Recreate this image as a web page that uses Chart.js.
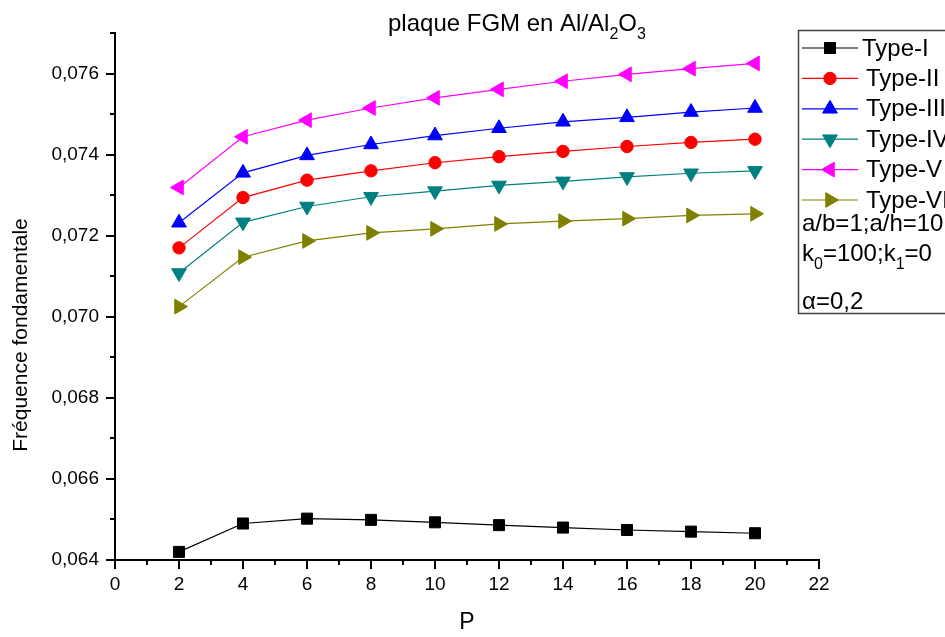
<!DOCTYPE html>
<html>
<head>
<meta charset="utf-8">
<title>plaque FGM en Al/Al2O3</title>
<script src="https://cdn.jsdelivr.net/npm/chart.js@4.4.0/dist/chart.umd.min.js"></script>
<style>
  html, body { margin: 0; padding: 0; background: #fff; }
  canvas { display: block; }
</style>
</head>
<body>
<canvas id="freqChart" width="945" height="637"></canvas>
<script>
// indice de loi de puissance P
const pValues = [2, 4, 6, 8, 10, 12, 14, 16, 18, 20];

// fréquence fondamentale adimensionnelle pour chaque type de plaque
const typeI   = [0.06420, 0.06490, 0.06502, 0.06499, 0.06493, 0.06486, 0.06480, 0.06474, 0.06470, 0.06466];
const typeII  = [0.07170, 0.07294, 0.07337, 0.07360, 0.07380, 0.07395, 0.07408, 0.07420, 0.07430, 0.07438];
const typeIII = [0.07232, 0.07355, 0.07398, 0.07425, 0.07447, 0.07465, 0.07481, 0.07492, 0.07505, 0.07515];
const typeIV  = [0.07108, 0.07233, 0.07272, 0.07296, 0.07310, 0.07324, 0.07334, 0.07345, 0.07354, 0.07360];
const typeV   = [0.07319, 0.07444, 0.07485, 0.07515, 0.07540, 0.07561, 0.07581, 0.07598, 0.07612, 0.07625];
const typeVI  = [0.07025, 0.07147, 0.07187, 0.07207, 0.07217, 0.07229, 0.07236, 0.07242, 0.07250, 0.07254];

const seriesNames = ['Type-I', 'Type-II', 'Type-III', 'Type-IV', 'Type-V', 'Type-VI'];

// graduations
const xTicks = [0, 2, 4, 6, 8, 10, 12, 14, 16, 18, 20, 22];
const xMinorTicks = [1, 3, 5, 7, 9, 11, 13, 15, 17, 19, 21];
const yTicks = [0.064, 0.066, 0.068, 0.070, 0.072, 0.074, 0.076];
const yMinorTicks = [0.065, 0.067, 0.069, 0.071, 0.073, 0.075, 0.077];

const FONT = 'Arial, "Liberation Sans", sans-serif';

function serie(label, values, color, style, radius, rotation) {
    return {
        label: label,
        data: pValues.map((p, i) => ({ x: p, y: values[i] })),
        borderColor: color,
        backgroundColor: color,
        borderWidth: 1.2,
        pointStyle: style,
        pointRadius: radius,
        pointHoverRadius: radius,
        pointRotation: rotation,
        pointBorderWidth: 1,
        pointBorderColor: color,
        pointBackgroundColor: color,
        tension: 0
    };
}

// texte avec indices (Al2O3, k0 ...)
function drawRich(ctx, parts, x, y, size) {
    ctx.textAlign = 'left';
    ctx.textBaseline = 'alphabetic';
    parts.forEach(([txt, sub]) => {
        ctx.font = (sub ? Math.round(size * 0.65) : size) + 'px ' + FONT;
        ctx.fillText(txt, x, sub ? y + size * 0.33 : y);
        x += ctx.measureText(txt).width;
    });
}

// ticks secondaires
const minorTicks = {
    id: 'minorTicks',
    afterDraw(chart) {
        const ctx = chart.ctx;
        const xs = chart.scales.x, ys = chart.scales.y;
        const area = chart.chartArea;
        ctx.save();
        ctx.strokeStyle = '#000';
        ctx.lineWidth = 2;
        ctx.beginPath();
        xMinorTicks.forEach(v => {
            const px = Math.round(xs.getPixelForValue(v));
            ctx.moveTo(px, area.bottom);
            ctx.lineTo(px, area.bottom + 5);
        });
        yMinorTicks.forEach(v => {
            const py = Math.round(ys.getPixelForValue(v));
            ctx.moveTo(area.left - 5, py);
            ctx.lineTo(area.left, py);
        });
        ctx.stroke();
        ctx.restore();
    }
};

// titre, titre de l'axe Y et légende
const annotations = {
    id: 'annotations',
    afterDraw(chart) {
        const ctx = chart.ctx;
        ctx.save();
        ctx.fillStyle = '#000';

        drawRich(ctx, [['plaque FGM en Al/Al', false], ['2', true], ['O', false], ['3', true]], 388, 31, 24);

        ctx.save();
        ctx.translate(21, 335);
        ctx.rotate(-Math.PI / 2);
        ctx.font = '21px ' + FONT;
        ctx.textAlign = 'center';
        ctx.textBaseline = 'middle';
        ctx.fillText('Fréquence fondamentale', 0, 0);
        ctx.restore();

        // cadre de la légende
        ctx.strokeStyle = '#444';
        ctx.lineWidth = 1.5;
        ctx.strokeRect(798.5, 30.5, 200, 283);

        chart.data.datasets.forEach((ds, i) => {
            const y = 48 + i * 30.4;
            ctx.strokeStyle = ds.borderColor;
            ctx.lineWidth = ds.borderWidth;
            ctx.beginPath();
            ctx.moveTo(802, y);
            ctx.lineTo(858, y);
            ctx.stroke();
            ctx.fillStyle = ds.backgroundColor;
            ctx.lineWidth = ds.pointBorderWidth;
            Chart.helpers.drawPoint(ctx, {
                pointStyle: ds.pointStyle,
                rotation: ds.pointRotation,
                radius: ds.pointRadius,
                borderWidth: ds.pointBorderWidth
            }, 830, y);
            ctx.fillStyle = '#000';
            ctx.font = '24px ' + FONT;
            ctx.textAlign = 'left';
            ctx.textBaseline = 'middle';
            ctx.fillText(ds.label, i === 0 ? 862 : 866, y + 1);
        });

        ctx.fillStyle = '#000';
        drawRich(ctx, [['a/b=1;a/h=10', false]], 802, 231, 24);
        drawRich(ctx, [['k', false], ['0', true], ['=100;k', false], ['1', true], ['=0', false]], 802, 261, 24);
        drawRich(ctx, [['\u03b1=0,2', false]], 802, 309, 24);
        ctx.restore();
    }
};

const colors = ['#000000', '#ff0000', '#0000ff', '#008080', '#ff00ff', '#808000'];

const ctx = document.getElementById('freqChart').getContext('2d');
new Chart(ctx, {
    type: 'line',
    data: {
        datasets: [
            serie(seriesNames[0], typeI,   colors[0], 'rect',     7.8, 0),
            serie(seriesNames[1], typeII,  colors[1], 'circle',   6.2, 0),
            serie(seriesNames[2], typeIII, colors[2], 'triangle', 8.5, 0),
            serie(seriesNames[3], typeIV,  colors[3], 'triangle', 8.5, 180),
            serie(seriesNames[4], typeV,   colors[4], 'triangle', 8.5, -90),
            serie(seriesNames[5], typeVI,  colors[5], 'triangle', 8.5, 90)
        ]
    },
    options: {
        responsive: false,
        animation: false,
        layout: { padding: { left: 0, top: 33, right: 126, bottom: 0 } },
        plugins: {
            legend: { display: false },
            title: { display: false },
            tooltip: { enabled: false }
        },
        scales: {
            x: {
                type: 'linear',
                min: 0,
                max: 22,
                afterBuildTicks: scale => { scale.ticks = xTicks.map(v => ({ value: v })); },
                afterFit: scale => { scale.height = 77; },
                grid: { drawOnChartArea: false, drawTicks: true, tickLength: 9, color: '#000', lineWidth: 2 },
                border: { display: true, color: '#000', width: 2 },
                ticks: { color: '#000', font: { family: FONT, size: 19 }, padding: 4, maxRotation: 0 },
                title: { display: true, text: 'P', color: '#000', font: { family: FONT, size: 23 }, padding: { top: 0, bottom: 1 } }
            },
            y: {
                type: 'linear',
                min: 0.064,
                max: 0.077,
                afterBuildTicks: scale => { scale.ticks = yTicks.map(v => ({ value: v })); },
                afterFit: scale => { scale.width = 115; },
                grid: { drawOnChartArea: false, drawTicks: true, tickLength: 9, color: '#000', lineWidth: 2 },
                border: { display: true, color: '#000', width: 2 },
                ticks: {
                    color: '#000',
                    font: { family: FONT, size: 19 },
                    padding: 7,
                    callback: v => v.toFixed(3).replace('.', ',')
                }
            }
        }
    },
    plugins: [minorTicks, annotations]
});
</script>
</body>
</html>
